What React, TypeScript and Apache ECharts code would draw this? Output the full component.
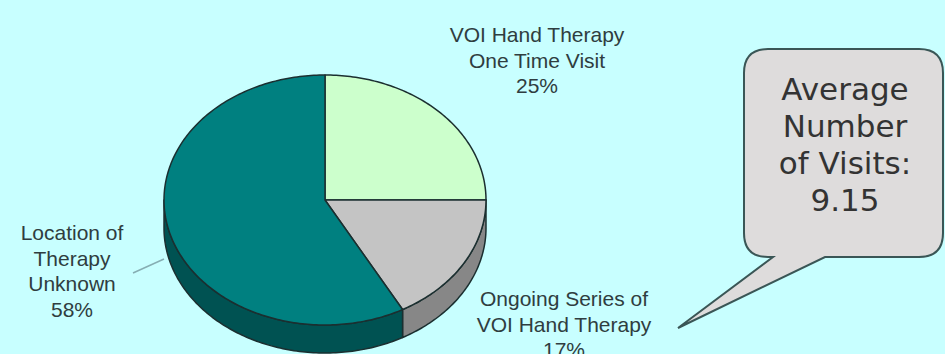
import React, { useEffect, useRef } from "react";
import * as echarts from "echarts";

const categories = [
  "VOI Hand Therapy\nOne Time Visit",
  "Ongoing Series of\nVOI Hand Therapy",
  "Location of\nTherapy\nUnknown",
];
const values = [25, 17, 58];
const topColors = ["#ccffcc", "#c4c4c4", "#008080"];
const sideColors = ["#99cc99", "#878787", "#005252"];
const labelPos = [
  [537, 60],
  [564, 324],
  [72, 271],
];
const calloutTitle = ["Average", "Number", "of Visits:"];
const averageVisits = 9.15;

const CX = 325;
const CY = 200;
const RX = 161;
const RY = 125;
const DEPTH = 28;
const STROKE = "#1b2f30";

const calloutPath =
  "M768,49 L919,49 Q943,49 943,73 L943,233 Q943,257 919,257 L825,257 L678,328 L773,257 L768,257 Q744,257 744,233 L744,73 Q744,49 768,49 Z";

let registered = false;
function ensureShape() {
  if (registered) return;
  echarts.graphic.registerShape("callout", echarts.graphic.extendPath(calloutPath, {}) as any);
  registered = true;
}

function pt(deg: number, dy: number): number[] {
  const r = (deg * Math.PI) / 180;
  return [CX + RX * Math.sin(r), CY - RY * Math.cos(r) + dy];
}

function arc(a: number, b: number, dy: number): number[][] {
  const out: number[][] = [];
  const n = Math.max(2, Math.ceil(Math.abs(b - a)));
  for (let k = 0; k <= n; k++) out.push(pt(a + ((b - a) * k) / n, dy));
  return out;
}

export default function App() {
  const ref = useRef<HTMLDivElement>(null);
  useEffect(() => {
    if (!ref.current) return;
    ensureShape();
    const chart = echarts.init(ref.current, null, { renderer: "svg" });
    const total = values.reduce((s, v) => s + v, 0);
    const option: any = {
      animation: false,
      backgroundColor: "#c8ffff",
      series: [
        {
          type: "custom",
          coordinateSystem: "none",
          data: values.map((v) => [v]),
          renderItem: (params: any, api: any) => {
            const i = params.dataIndex;
            let before = 0;
            for (let k = 0; k < i; k++) before += values[k];
            const v = api.value(0);
            const start = (before / total) * 360;
            const end = ((before + v) / total) * 360;
            const children: any[] = [];
            const s = Math.max(start, 90);
            const e = Math.min(end, 270);
            if (s < e) {
              const pts = arc(s, e, 0).concat(arc(e, s, DEPTH));
              children.push({
                type: "polygon",
                z2: 1,
                shape: { points: pts },
                style: { fill: sideColors[i], stroke: STROKE, lineWidth: 1.5, lineJoin: "round" },
              });
            }
            children.push({
              type: "polygon",
              z2: 2,
              shape: { points: [[CX, CY]].concat(arc(start, end, 0)) },
              style: { fill: topColors[i], stroke: STROKE, lineWidth: 1.5, lineJoin: "round" },
            });
            const pct = Math.round((v / total) * 100);
            children.push({
              type: "text",
              z2: 3,
              x: labelPos[i][0],
              y: labelPos[i][1],
              style: {
                text: categories[i] + "\n" + pct + "%",
                fill: "#2f3d40",
                font: "21px 'Liberation Sans', Arial, sans-serif",
                textAlign: "center",
                textVerticalAlign: "middle",
                lineHeight: 25.5,
              },
            });
            return { type: "group", children };
          },
        },
      ],
      graphic: [
        {
          type: "line",
          shape: { x1: 133, y1: 273, x2: 164, y2: 259 },
          style: { stroke: "#86aeb3", lineWidth: 1.5 },
        },
        {
          type: "callout",
          x: 0,
          y: 0,
          style: { fill: "#dedcdc", stroke: "#3a5656", lineWidth: 2 },
        },
        {
          type: "text",
          x: 845,
          y: 144,
          style: {
            text: calloutTitle.join("\n") + "\n" + averageVisits.toFixed(2),
            fill: "#333333",
            font: "31px 'DejaVu Sans', Verdana, sans-serif",
            textAlign: "center",
            textVerticalAlign: "middle",
            lineHeight: 37,
          },
        },
      ],
    };
    chart.setOption(option);
    return () => chart.dispose();
  }, []);
  return (
    <div
      ref={ref}
      style={{ position: "absolute", left: 0, top: 0, width: 945, height: 354 }}
    />
  );
}
